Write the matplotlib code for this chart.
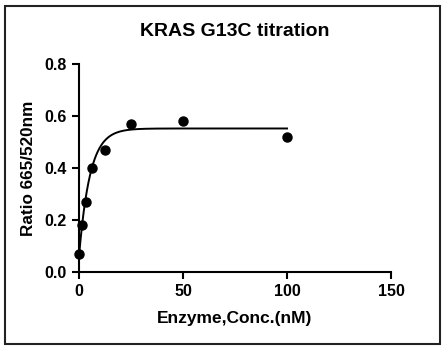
import matplotlib
matplotlib.use('Agg')
import matplotlib.pyplot as plt
from matplotlib.patches import Rectangle
import numpy as np

plt.rcParams['font.family'] = ['Liberation Sans', 'DejaVu Sans']
plt.rcParams['font.weight'] = 'bold'

# measured points
conc = [0, 1.5625, 3.125, 6.25, 12.5, 25, 50, 100]
ratio = [0.07, 0.18, 0.27, 0.40, 0.47, 0.57, 0.58, 0.52]

# fitted curve params (one-phase association)
fit_y0 = 0.06
fit_plateau = 0.552
fit_k = 0.19

fig = plt.figure(figsize=(4.46, 3.5), dpi=100)
ax = fig.add_axes([79/446, 1 - 272/350, (391-79)/446, (272-64)/350])

xc = np.linspace(0, 100, 400)
yc = fit_y0 + (fit_plateau - fit_y0) * (1 - np.exp(-fit_k * xc))
ax.plot(xc, yc, color='black', lw=1.4, zorder=2)
ax.plot(conc, ratio, 'o', color='black', ms=6.5, zorder=3, clip_on=False)

ax.set_xlim(0, 150)
ax.set_ylim(0, 0.8)
ax.set_xticks([0, 50, 100, 150])
ax.set_yticks([0.0, 0.2, 0.4, 0.6, 0.8])
ax.set_yticklabels(['0.0', '0.2', '0.4', '0.6', '0.8'])
for s in ['top', 'right']:
    ax.spines[s].set_visible(False)
for s in ['left', 'bottom']:
    ax.spines[s].set_linewidth(1.5)
ax.tick_params(width=1.5, length=5, labelsize=11.5, pad=4)

ax.set_xlabel('Enzyme,Conc.(nM)', fontsize=12.5, fontweight='bold', labelpad=8)
ax.set_ylabel('Ratio 665/520nm', fontsize=12.3, fontweight='bold', labelpad=6)
ax.set_title('KRAS G13C titration', fontsize=14, fontweight='bold', pad=20)

# outer frame
fig.patches.append(Rectangle((5/446, 6/350), 435/446, 338/350, transform=fig.transFigure,
                             fill=False, edgecolor='#222222', lw=1.5))

fig.savefig('out.png', dpi=100)
